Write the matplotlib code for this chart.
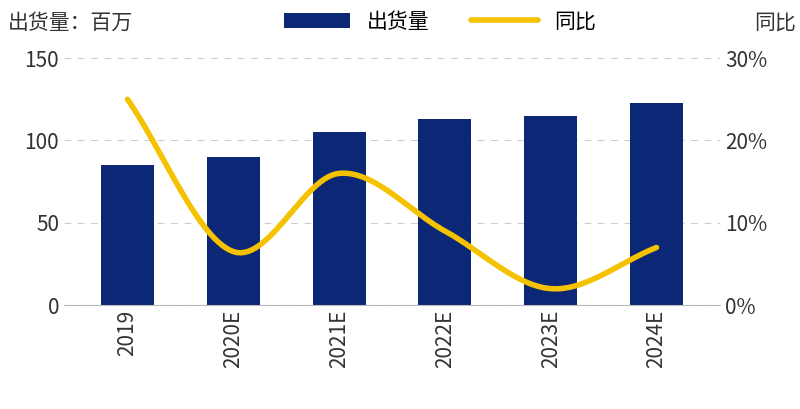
import matplotlib.pyplot as plt
import numpy as np

plt.rcParams['font.family'] = ['Noto Sans CJK SC', 'DejaVu Sans']

years = ['2019', '2020E', '2021E', '2022E', '2023E', '2024E']
shipments = [85, 90, 105, 113, 115, 123]
yoy = [25, 6.5, 16, 9, 2, 7]

fig = plt.figure(figsize=(8, 4.09), dpi=100)
ax = fig.add_axes([0.08, 0.254, 0.82, 0.604])
x = np.arange(len(years))
bars = ax.bar(x, shipments, width=0.5, color='#0b2775', label='出货量', zorder=2)
ax.set_ylim(0, 150)
ax.set_yticks([0, 50, 100, 150])
ax.set_xlim(-0.6, len(years) - 0.4)
ax.set_xticks(x)
ax.set_xticklabels(years, rotation=90, fontsize=15, color='#333333')
ax.tick_params(axis='y', labelsize=15, colors='#333333', length=0)
ax.tick_params(axis='x', length=0)
ax.grid(axis='y', linestyle=(0, (6, 6)), color='#cccccc', zorder=0)
for s in ['top', 'right', 'left']:
    ax.spines[s].set_visible(False)
ax.spines['bottom'].set_color('#bbbbbb')

ax2 = ax.twinx()
# smooth curve through data points (Catmull-Rom)
px = x.astype(float)
py = np.array(yoy, dtype=float)
P = np.column_stack([px, py])
P = np.vstack([2 * P[0] - P[1], P, 2 * P[-1] - P[-2]])
sx, sy = [], []
t = np.linspace(0, 1, 30)
for i in range(1, len(P) - 2):
    p0, p1, p2, p3 = P[i - 1], P[i], P[i + 1], P[i + 2]
    seg = 0.5 * ((2 * p1)[None] + (-p0 + p2)[None] * t[:, None]
                 + (2 * p0 - 5 * p1 + 4 * p2 - p3)[None] * t[:, None] ** 2
                 + (-p0 + 3 * p1 - 3 * p2 + p3)[None] * t[:, None] ** 3)
    sx.extend(seg[:, 0]); sy.extend(seg[:, 1])
line, = ax2.plot(sx, sy, color='#f5c200', lw=4, label='同比', solid_capstyle='round')
ax2.set_ylim(0, 30)
ax2.set_yticks([0, 10, 20, 30])
ax2.set_yticklabels(['0%', '10%', '20%', '30%'])
ax2.tick_params(axis='y', labelsize=15, colors='#333333', length=0)
for s in ['top', 'right', 'left', 'bottom']:
    ax2.spines[s].set_visible(False)

fig.text(0.01, 0.93, '出货量：百万', fontsize=15, color='#333333')
fig.text(0.995, 0.93, '同比', fontsize=15, color='#333333', ha='right')
fig.legend(handles=[bars, line], loc='upper center', bbox_to_anchor=(0.55, 1.02),
           ncol=2, frameon=False, fontsize=15, handlelength=3.2, columnspacing=2)

fig.savefig('out.png', dpi=100)
